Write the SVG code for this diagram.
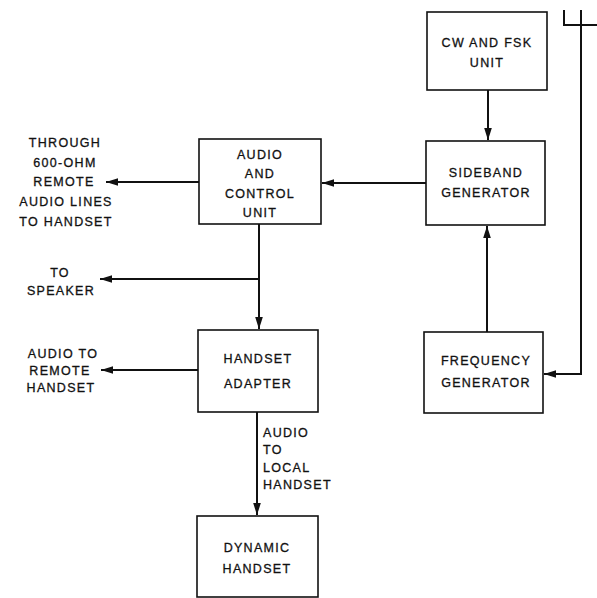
<svg xmlns="http://www.w3.org/2000/svg" width="597" height="598" viewBox="0 0 597 598">
<style>
.box{fill:#fff;stroke:#111;stroke-width:1.6}
.ln{fill:none;stroke:#111;stroke-width:2}
text{font-family:"Liberation Sans","DejaVu Sans",sans-serif;font-size:12.5px;letter-spacing:1.3px;fill:#111;stroke:#111;stroke-width:0.3}
.c{text-anchor:middle}
</style>
<defs>
<marker id="ah" viewBox="0 0 10 10" refX="10" refY="5" markerWidth="6" markerHeight="6" markerUnits="strokeWidth" orient="auto">
<path d="M0,1.8 L10,5 L0,8.2 Z" fill="#111"/>
</marker>
</defs>
<rect width="597" height="598" fill="#fff"/>
<g id="connectors">
<line class="ln" x1="488" y1="90" x2="488" y2="140" marker-end="url(#ah)"/>
<line class="ln" x1="487" y1="332" x2="487" y2="226" marker-end="url(#ah)"/>
<line class="ln" x1="426" y1="183" x2="322" y2="183" marker-end="url(#ah)"/>
<line class="ln" x1="199" y1="182" x2="106" y2="182" marker-end="url(#ah)"/>
<line class="ln" x1="259" y1="224" x2="259" y2="329" marker-end="url(#ah)"/>
<line class="ln" x1="259" y1="279" x2="100" y2="279" marker-end="url(#ah)"/>
<line class="ln" x1="198" y1="370" x2="101" y2="370" marker-end="url(#ah)"/>
<line class="ln" x1="257" y1="412" x2="257" y2="515" marker-end="url(#ah)"/>
<polyline class="ln" points="581,10 581,374 544,374" marker-end="url(#ah)"/>
<polyline class="ln" points="564,10 564,25 597,25"/>
</g>
<g id="cw-fsk">
<rect class="box" x="427" y="12" width="120" height="78"/>
<text class="c" x="487" y="47">CW  AND FSK</text>
<text class="c" x="487" y="67">UNIT</text>
</g>
<g id="sideband">
<rect class="box" x="426" y="141" width="119" height="84"/>
<text class="c" x="486" y="177">SIDEBAND</text>
<text class="c" x="486" y="197">GENERATOR</text>
</g>
<g id="audio-control">
<rect class="box" x="199" y="139" width="122" height="85"/>
<text class="c" x="260" y="159">AUDIO</text>
<text class="c" x="260" y="178">AND</text>
<text class="c" x="260" y="198">CONTROL</text>
<text class="c" x="260" y="217">UNIT</text>
</g>
<g id="frequency">
<rect class="box" x="424" y="332" width="119" height="81"/>
<text class="c" x="486" y="365">FREQUENCY</text>
<text class="c" x="486" y="387">GENERATOR</text>
</g>
<g id="handset-adapter">
<rect class="box" x="198" y="330" width="120" height="82"/>
<text class="c" x="258" y="363">HANDSET</text>
<text class="c" x="258" y="388">ADAPTER</text>
</g>
<g id="dynamic-handset">
<rect class="box" x="197" y="516" width="121" height="81"/>
<text class="c" x="257" y="552">DYNAMIC</text>
<text class="c" x="257" y="573">HANDSET</text>
</g>
<g id="labels">
<text class="c" x="65" y="147">THROUGH</text>
<text class="c" x="65" y="167">600-OHM</text>
<text class="c" x="64" y="186">REMOTE</text>
<text class="c" x="66" y="206">AUDIO LINES</text>
<text class="c" x="66" y="226">TO HANDSET</text>
<text class="c" x="60" y="277">TO</text>
<text class="c" x="61" y="295">SPEAKER</text>
<text class="c" x="63" y="358">AUDIO TO</text>
<text class="c" x="60" y="375">REMOTE</text>
<text class="c" x="61" y="392">HANDSET</text>
<text x="263" y="437">AUDIO</text>
<text x="263" y="454">TO</text>
<text x="263" y="472">LOCAL</text>
<text x="263" y="489">HANDSET</text>
</g>
</svg>
